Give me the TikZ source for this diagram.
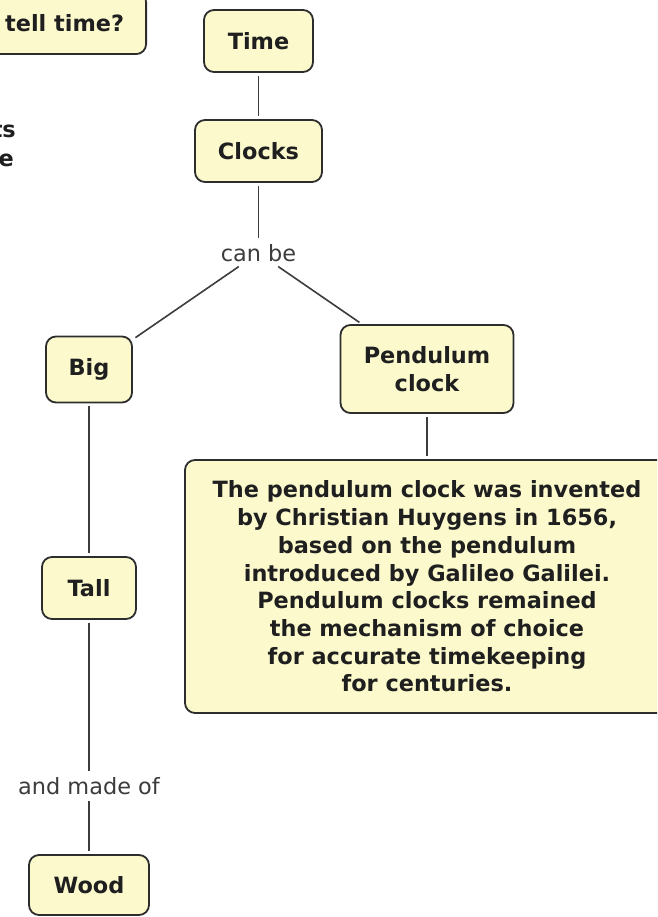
\documentclass[tikz,border=0pt]{standalone}
\usepackage{fontspec}
\setmainfont{DejaVu Sans}
\definecolor{conceptfill}{RGB}{252,250,205}
\definecolor{conceptline}{RGB}{45,45,45}
\definecolor{linkgray}{RGB}{60,60,60}

\begin{document}
\begin{tikzpicture}[x = 1pt, y = -1pt,
        concept/.style = {draw = conceptline, line width = 1.8pt, fill = conceptfill, rounded corners = 10pt, font = \fontsize{22.4}{27.7}\selectfont\bfseries, text = black!88, align = center, inner sep = 0pt},
        linkword/.style = {font = \fontsize{22.4}{27.7}\selectfont, text = linkgray, inner sep = 3pt},
        cuttext/.style = {font = \fontsize{22.4}{27.7}\selectfont\bfseries, text = black!88, inner sep = 0pt, anchor = east},
        link/.style = {draw = linkgray, line width = 1.6pt, shorten < = 3pt, shorten > = 3pt}]
            \useasboundingbox (0, 0) rectangle (657, 917);
            \clip (0, 0) rectangle (657, 917);
            \node[concept, anchor = south east, inner xsep = 22pt, minimum height = 62pt] (tell) at (147, 55) {tell time?};
            \node[cuttext] (ts) at (16, 130) {ts};
            \node[cuttext] (e) at (14, 160) {e};
            \node[concept, minimum width = 109pt, minimum height = 62pt] (time) at (258.5, 41) {Time};
            \node[concept, minimum width = 127pt, minimum height = 62pt] (clocks) at (258.5, 151) {Clocks};
            \node[linkword] (canbe) at (258.5, 253) {can be};
            \node[concept, minimum width = 86pt, minimum height = 66pt] (big) at (89, 369.5) {Big};
            \node[concept, minimum width = 173pt, minimum height = 88pt] (pendulum) at (427, 369) {Pendulum\\clock};
            \node[concept, minimum width = 484pt, minimum height = 253pt] (invented) at (427, 586.5) {The pendulum clock was invented\\by Christian Huygens in 1656,\\based on the pendulum\\introduced by Galileo Galilei.\\Pendulum clocks remained\\the mechanism of choice\\for accurate timekeeping\\for centuries.};
            \node[concept, minimum width = 94pt, minimum height = 62pt] (tall) at (89, 588) {Tall};
            \node[linkword] (madeof) at (89, 786) {and made of};
            \node[concept, minimum width = 120pt, minimum height = 60pt] (wood) at (89, 885) {Wood};
            \draw[link] (time) -- (clocks);
            \draw[link] (clocks) -- (canbe);
            \draw[link] (canbe) -- (big);
            \draw[link] (canbe) -- (pendulum);
            \draw[link] (pendulum) -- (invented);
            \draw[link] (big) -- (tall);
            \draw[link] (tall) -- (madeof);
            \draw[link] (madeof) -- (wood);
        \end{tikzpicture}
\end{document}
